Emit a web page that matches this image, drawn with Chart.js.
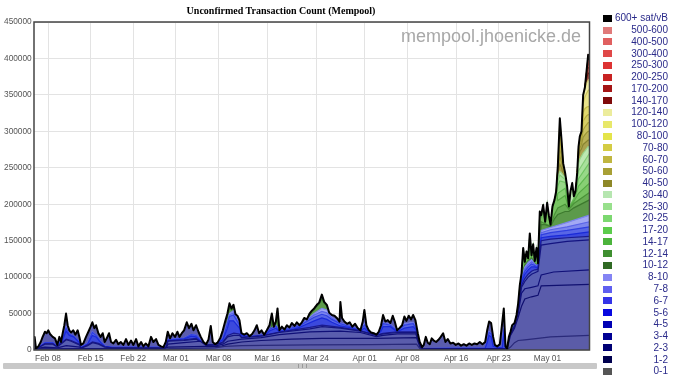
<!DOCTYPE html>
<html>
<head>
<meta charset="utf-8">
<script src="https://cdn.jsdelivr.net/npm/chart.js@4.4.0/dist/chart.umd.min.js"></script>
<style>
  html, body { margin: 0; padding: 0; background: #fff; }
  body { width: 679px; height: 379px; position: relative; overflow: hidden; font-family: 'Liberation Sans', Arial, sans-serif; }
  #chartBox { position: absolute; left: 0; top: 0; width: 600px; height: 368px; }
  #title { position: absolute; left: 0; top: 5px; width: 562px; text-align: center; font: bold 10px 'Liberation Serif', 'Times New Roman', serif; line-height: 12px; color: #000; }
  #watermark { position: absolute; right: 98px; top: 26px; font-size: 18px; line-height: 20px; color: #a8a8a8; }
  #legend { position: absolute; left: 600px; top: 0; width: 79px; height: 379px; }
  .row { position: absolute; left: 0; width: 68px; height: 12px; }
  .sw { position: absolute; left: 3px; top: 2.5px; width: 9px; height: 7px; }
  .lab { position: absolute; right: 0; top: 0; font-size: 10px; line-height: 12px; color: #2a2a8a; white-space: nowrap; }
  #scroll { position: absolute; left: 3px; top: 363px; width: 594px; height: 6px; background: #c8c8c8; border-radius: 1px; }
  #grip { position: absolute; left: 295px; top: 1px; width: 7px; height: 4px; border-left: 1px solid #999; border-right: 1px solid #999; }
  #grip:after { content: ''; position: absolute; left: 3px; top: 0; width: 1px; height: 4px; background: #999; }
</style>
</head>
<body>
<div id="chartBox"><canvas id="mempoolChart" width="600" height="368"></canvas></div>
<div id="title">Unconfirmed Transaction Count (Mempool)</div>
<div id="watermark">mempool.jhoenicke.de</div>
<div id="legend"></div>
<div id="scroll"><div id="grip"></div></div>
<script>
// x values are days counted from Feb 01, y values in thousands of transactions
const tickDays = [7, 14, 21, 28, 35, 43, 51, 59, 66, 74, 81, 89]
const tickLabels = ['Feb 08', 'Feb 15', 'Feb 22', 'Mar 01', 'Mar 08', 'Mar 16', 'Mar 24', 'Apr 01', 'Apr 08', 'Apr 16', 'Apr 23', 'May 01']

const feeLabels = ['0-1', '1-2', '2-3', '3-4', '4-5', '5-6', '6-7', '7-8', '8-10', '10-12', '12-14', '14-17', '17-20', '20-25', '25-30', '30-40', '40-50', '50-60', '60-70', '70-80', '80-100', '100-120', '120-140', '140-170', '170-200', '200-250', '250-300', '300-400', '400-500', '500-600', '600+ sat/vB']

// each band is the top of the stack up to that fee level: [day, thousands]
const fee0_1 = [[4.7,1],[26,1],[27,2],[33,2.5],[34.4,3],[36,5],[38.8,6],[50,7],[60,7.5],[67.5,8],[68.1,1.5],[68.42,0.5],[82.38,0.5],[82.93,4],[83.59,10],[84.19,13],[85.28,14],[87.44,16],[89.5,18],[95.9,20]]
const fee1_2 = [[4.7,1.5],[12.2,2],[26,1.5],[26.7,4],[33,5],[34.4,4.5],[35.5,5.5],[36.5,8],[38.8,11],[42,13],[47,15],[52,16],[60.9,16],[67.5,17],[68.1,3],[68.42,1],[82.38,1],[82.93,20],[83.59,30],[84.19,45],[84.74,60],[85.28,70],[86.38,73],[87.44,75],[87.97,88],[95.9,90]]
const fee2_3 = [[4.7,1.5],[6.5,4],[8.5,3],[10,6],[12.2,4],[12.42,2],[26.33,2],[26.7,8],[29.3,10],[32,12],[33,6],[34.44,5.5],[35.7,8],[36.5,12],[38.8,15],[42,17],[45,21],[50,25],[55,26],[58.29,24],[60.91,18.5],[62,20],[64.31,22],[67.4,22],[68.1,4],[68.42,1.5],[82.38,1.5],[82.93,21.5],[83.59,32],[84.19,50],[84.74,78],[85.28,84],[86.38,86],[87.44,88],[87.97,103],[90,107],[95.9,110]]
const fee3_4 = [[4.7,1],[5.03,1.5],[6.5,8],[7.8,8],[8.5,4],[9.4,10],[10,14],[10.8,12],[12.15,7],[12.42,2.5],[13.5,6],[14.3,10],[15.3,8],[16.31,4],[17.5,3],[26.33,3],[26.7,12],[29.3,13],[31.3,15],[32.5,8],[33,7],[34.44,7],[35.7,10],[36.5,18],[37.5,20],[38.43,20],[38.76,17],[42,19],[45,24],[50,29],[52,32],[55,30],[58.29,26],[60.91,20],[62,22],[64.31,24],[67.4,24],[67.71,16],[68.1,5],[68.42,2],[82.38,1.5],[82.93,22.5],[83.59,33],[83.92,42],[84.19,52],[84.46,68],[84.74,86],[85.28,94],[85.83,100],[86.38,104],[86.92,106],[87.44,108],[87.97,144],[89.5,146],[92.23,149],[95.9,151]]
const fee4_5 = [[4.7,1],[5.03,1.5],[6.5,8.5],[7.8,8.5],[8.5,4.5],[9.4,11],[10,15],[10.8,13],[12.15,8],[12.42,2.5],[13.5,7],[14.3,11],[15.3,9],[16.31,4.5],[17.5,3],[26.33,3],[26.7,12.5],[29.3,14],[31.3,16],[32.5,8.2],[33,7.2],[34.44,7.2],[35.7,11],[36.5,20],[37.5,23],[38.43,22],[38.76,17.5],[42,19.5],[45,24.5],[50,31],[52,34],[55,31],[58.29,26.2],[60.91,20.2],[62,23],[64.31,25],[67.4,25],[67.71,16.5],[68.1,5],[68.42,2],[82.38,1.5],[82.93,22.5],[83.59,33],[83.92,43],[84.19,53],[84.46,70],[84.74,89],[85.28,98],[85.83,104],[86.38,108],[86.92,110],[87.44,110.5],[87.97,150],[89.5,152],[92.23,154],[95.9,156]]
const fee5_6 = [[4.7,1],[5.03,1.5],[6.5,9],[7.8,9],[8.5,4.5],[9.4,14],[9.96,26],[10.5,20],[11.2,18],[12.15,10],[12.42,3],[13.5,8],[14.28,20],[14.89,18],[15.65,10],[16.31,5],[17.5,3.5],[26.33,3.5],[26.7,13],[29.3,15],[30.5,19],[31.3,18],[32.5,8.5],[33,7.5],[34.44,7.5],[35.7,14],[36.46,30],[36.79,40],[37.45,40],[38.43,30],[38.76,20],[40.08,18],[42,20],[42.49,19],[43.36,26],[44.4,30],[45,25],[47,28],[48.29,31],[49.06,34],[50.7,40],[51.96,44],[52.78,42],[53.6,38],[55,33],[56.97,30],[58.29,26],[58.94,30],[59.66,24],[60.91,20],[61.68,26],[62.01,32],[63.21,32],[64.31,25],[65.51,30],[66.94,32],[67.4,28],[67.71,18],[68.1,6],[68.42,2],[78.77,2.5],[79.1,10],[79.42,20],[79.75,18],[80.08,5],[81.56,2.5],[81.83,20],[82.11,3],[82.38,1.5],[82.93,22.5],[83.59,33.5],[83.92,44],[84.19,55],[84.46,74],[84.74,93],[85.28,104],[85.83,110],[86.38,114],[86.92,114],[87.44,112],[87.97,154],[89.5,156],[92.23,158],[95.9,162]]
const fee6_7 = [[4.7,1],[5.03,1.5],[6.5,10],[7.8,10],[8.5,5],[9.4,16],[9.96,30],[10.5,22],[11.2,19],[12.15,11],[12.42,3.5],[13.5,9],[14.28,24],[14.89,20],[15.65,11],[16.31,5.5],[17.5,3.5],[26.33,3.5],[26.7,14],[29.3,16],[30.5,21],[31.3,20],[32.5,9],[33,7.5],[34.44,7.5],[35.7,15],[36.46,36],[36.79,46],[37.45,48],[38.43,34],[38.76,21],[40.08,18.5],[42,20.5],[42.49,19.5],[43.36,28],[44.4,33],[45,26],[47,30],[48.29,33],[49.06,37],[50.7,45],[51.96,49],[52.78,47],[53.6,42],[55,36],[56.97,31],[58.29,26.5],[58.94,34],[59.66,25],[60.91,20.5],[61.68,28],[62.01,36],[63.21,34],[64.31,26],[65.51,34],[66.94,36],[67.4,30],[67.71,19],[68.1,6],[68.42,2],[78.77,2.5],[79.1,11],[79.42,24],[79.75,22],[80.08,6],[81.56,2.5],[81.83,28],[82.11,3],[82.38,1.5],[82.93,23],[83.59,34],[83.92,45],[84.19,57],[84.46,77],[84.74,96],[85.28,108],[85.83,114],[86.38,118],[86.92,116],[87.44,113],[87.97,158],[89.5,161],[92.23,164],[95.9,169]]
const fee7_8 = [[4.7,1],[5.03,1.5],[6.5,10],[7.8,10],[8.5,5],[9.4,16],[9.96,31],[10.5,22],[11.2,19],[12.15,11],[12.42,3.5],[13.5,9],[14.28,25],[14.89,20],[15.65,11],[16.31,5.5],[17.5,3.5],[26.33,3.5],[26.7,14],[29.3,16],[30.5,21],[31.3,20],[32.5,9],[33,7.5],[34.44,7.5],[35.7,15],[36.46,37],[36.79,48],[37.45,51],[38.43,35],[38.76,21],[40.08,18.5],[42,20.5],[42.49,19.5],[43.36,28],[44.4,33],[45,26],[47,30],[48.29,33],[49.06,38],[50.7,48],[51.96,53],[52.78,51],[53.6,44],[55,37],[56.97,31],[58.29,26.5],[58.94,35],[59.66,25],[60.91,20.5],[61.68,28],[62.01,37],[63.21,35],[64.31,26],[65.51,35],[66.94,37],[67.4,31],[67.71,19],[68.1,6],[68.42,2],[78.77,2.5],[79.1,11],[79.42,25],[79.75,23],[80.08,6],[81.56,2.5],[81.83,30],[82.11,3],[82.38,1.5],[82.93,23],[83.59,34],[83.92,45.5],[84.19,58],[84.46,78],[84.74,97],[85.28,111],[85.83,117],[86.38,121],[86.92,117.5],[87.44,114],[87.97,161],[89.5,165],[92.23,169],[95.9,176]]
const fee8_10 = [[4.7,1],[5.03,1.5],[6.5,10],[7.8,10],[8.5,5],[9.4,16],[9.96,32],[10.5,22],[11.2,19],[12.15,11],[12.42,3.5],[13.5,9],[14.28,25],[14.89,20],[15.65,11],[16.31,5.5],[17.5,3.5],[26.33,3.5],[26.7,14],[29.3,16],[30.5,21],[31.3,20],[32.5,9],[33,7.5],[34.44,7.5],[35.7,15],[36.46,38],[36.79,50],[37.45,54],[38.43,35],[38.76,21],[40.08,18.5],[42,20.5],[42.49,19.5],[43.36,28],[44.4,34],[45,26],[47,30],[48.29,33],[49.06,38],[50.7,50],[51.96,57],[52.78,55],[53.6,45],[55,37],[56.97,31],[58.29,26.5],[58.94,36],[59.66,25],[60.91,20.5],[61.68,28],[62.01,38],[63.21,35],[64.31,26],[65.51,36],[66.94,38],[67.4,31],[67.71,19],[68.1,6],[68.42,2],[78.77,2.5],[79.1,11],[79.42,25],[79.75,23],[80.08,6],[81.56,2.5],[81.83,32],[82.11,3],[82.38,1.5],[82.93,23],[83.59,34],[83.92,46],[84.19,59],[84.46,79],[84.74,98],[85.28,114],[85.83,120],[86.38,124],[86.92,118],[87.44,114.5],[87.97,164],[89.5,168],[92.23,175],[95.9,185]]
const fee10_12 = [[4.7,0],[36.08,0],[36.46,44],[36.79,58],[37.12,55],[37.45,58],[37.78,46],[38.1,30],[38.43,0],[43.36,0],[43.75,40],[44.08,31],[44.4,37],[44.68,45],[45,0],[49.06,0],[49.5,40],[49.93,48],[50.32,52],[50.7,55],[51.14,60],[51.52,63],[51.96,70],[52.34,64],[52.78,60],[53.17,49],[53.6,0],[82.38,0],[83.2,27],[83.59,32],[84.19,56],[84.74,99],[85.28,116],[85.83,121],[86.38,125],[86.92,118.5],[87.44,115.5],[87.97,172],[88.62,172],[89.5,169],[90.15,180],[90.7,186],[91.9,190],[92.51,190],[93.33,195],[95.9,206]]
const fee12_14 = [[82.38,0.5],[83.2,29],[83.59,33],[84.19,58],[84.74,101],[85.28,118],[85.83,123],[86.38,127],[86.92,119.5],[87.44,116.5],[87.97,176],[88.62,173],[89.5,170],[90.15,186],[90.7,195],[91.9,200],[92.51,193],[93.33,201],[95.9,216]]
const fee14_17 = [[82.38,0.5],[82.66,16],[82.93,23],[83.2,32],[83.59,35],[83.92,46],[84.19,62],[84.46,87],[84.74,103],[85.01,138],[85.28,119],[85.56,133],[85.83,124],[86.1,158],[86.38,128],[86.65,143],[86.92,120],[87.2,138],[87.44,117],[87.74,188],[87.97,183],[88.29,197],[88.62,174],[88.95,200],[89.22,183],[89.5,170.5],[89.82,195],[90.15,204],[90.43,216],[90.7,205],[91.9,212],[92.51,194],[93.33,204],[94.1,215],[95.9,229]]
const fee17_20 = [[87.97,181],[88.62,174],[89.5,171],[90.15,197],[90.7,215],[91.9,222],[92.51,194.5],[93.33,206],[93.6,212],[93.88,219],[94.1,225],[95.9,243]]
const fee20_25 = [[87.97,182],[88.62,174],[89.5,171],[90.15,199],[90.7,225],[91.03,232],[91.9,230],[92.51,195],[93.33,207],[93.6,213],[93.88,226],[94.1,235],[95.9,257]]
const fee25_30 = [[87.97,183],[88.62,174],[89.5,171],[90.15,200],[90.7,232],[91.03,240],[91.9,234],[92.51,195],[93.33,208],[93.6,214],[93.88,232],[94.1,246],[95.9,270]]
const fee30_40 = [[90.15,203],[90.43,216],[90.7,238],[91.03,245],[91.3,243],[91.58,240],[91.9,237],[92.23,222],[92.51,195.5],[92.78,216],[93.06,227],[93.33,209],[93.6,216],[93.88,238],[94.1,256],[94.31,262],[94.59,266],[94.86,270],[95.14,273],[95.41,276],[95.68,279],[95.9,279]]
const fee40_50 = [[90.43,214],[90.7,242],[91.03,255],[91.3,250],[91.58,242],[91.9,238],[92.23,220],[92.51,194],[92.78,214],[93.06,225],[93.33,208],[93.6,214],[93.88,239],[94.1,265],[94.31,272],[94.59,276],[94.86,282],[95.14,284],[95.41,286],[95.68,288],[95.9,288]]
const fee50_60 = [[90.43,214],[90.7,245],[91.03,266],[91.3,258],[91.58,246],[91.9,239],[92.23,220],[92.51,194],[93.33,208],[93.6,214],[93.88,240],[94.1,268],[94.31,277],[94.59,282],[94.86,292],[95.14,295],[95.41,298],[95.68,300],[95.9,300]]
const fee60_70 = [[90.43,214],[90.7,247],[91.03,276],[91.3,265],[91.58,249],[91.9,240],[92.23,220],[92.51,194],[93.33,208],[93.6,214],[93.88,240],[94.1,271],[94.31,281],[94.59,287],[94.86,302],[95.14,306],[95.41,309],[95.68,312],[95.9,312]]
const fee70_80 = [[90.43,214],[90.7,248],[91.03,287],[91.3,272],[91.58,251],[91.9,240],[92.23,220],[92.51,194],[93.33,208],[93.6,214],[93.88,241],[94.1,273],[94.31,285],[94.59,291],[94.86,314],[95.14,318],[95.41,321],[95.68,323],[95.9,323]]
const fee80_100 = [[90.43,215],[90.7,249],[91.03,298],[91.3,279],[91.58,253],[91.9,241],[92.23,221],[92.51,194],[93.33,208],[93.6,214],[93.88,241],[94.1,275],[94.31,288],[94.59,295],[94.86,326],[95.14,331],[95.41,333],[95.68,334],[95.9,334]]
const fee100_120 = [[90.43,215],[90.7,250],[91.03,308],[91.3,284],[91.58,254],[91.9,241],[92.23,221],[92.51,194],[93.33,208],[93.6,214],[93.88,241],[94.1,276],[94.31,290],[94.59,297],[94.86,338],[95.14,347],[95.41,352],[95.68,356],[95.9,357]]
const fee120_140 = [[90.43,216],[90.7,250],[91.03,316],[91.3,287],[91.58,254],[91.9,241],[92.23,222],[92.51,195],[93.33,209],[93.6,215],[93.88,241],[94.1,277],[94.31,291],[94.59,298],[94.86,348],[95.14,358],[95.41,366],[95.68,370],[95.9,372]]
const fee140_170 = [[95.14,358],[95.41,372],[95.68,380],[95.9,379]]
const fee170_200 = [[95.14,358],[95.41,376],[95.68,388],[95.9,386]]
const fee200_250 = [[95.14,358],[95.41,378],[95.68,393],[95.9,390]]
const fee250_300 = [[95.14,358],[95.41,379],[95.68,397],[95.9,393]]
const fee300_400 = [[95.14,358],[95.41,380],[95.68,400],[95.9,395]]
const fee400_500 = [[95.14,358],[95.41,380.5],[95.68,402],[95.9,396]]
const fee500_600 = [[95.14,358],[95.41,381],[95.68,403],[95.9,397]]
// total of all bands (600+ top)
const fee600 = [[4.7,17],[4.8,18],[5.03,2],[5.41,5],[5.8,11],[6.12,18],[6.5,25],[6.78,23],[7.05,27],[7.33,22],[7.77,18],[8.15,16],[8.53,7],[8.86,18],[9.13,11],[9.41,23],[9.68,34],[9.96,50],[10.23,34],[10.5,27],[10.78,24],[11.16,27],[11.49,21],[11.87,27],[12.15,18],[12.42,7],[12.8,9],[13.24,18],[13.63,25],[14,32],[14.28,38],[14.61,30],[14.89,34],[15.27,23],[15.65,18],[15.98,23],[16.31,11],[16.64,16],[17.02,23],[17.35,11],[17.73,9],[18.17,14],[18.55,8],[18.94,11],[19.37,7],[19.81,15],[20.2,7],[20.63,13],[21.02,7],[21.46,15],[21.84,5],[22.28,11],[22.66,5],[23.05,9],[23.48,5],[23.92,18],[24.3,11],[24.74,15],[25.13,7],[25.56,5],[25.95,4],[26.33,11],[26.66,25],[27.04,16],[27.43,23],[27.86,18],[28.25,25],[28.58,18],[28.96,23],[29.34,27],[29.78,38],[30.16,30],[30.55,36],[30.88,27],[31.31,34],[31.7,25],[32.08,18],[32.52,11],[32.96,8],[33.34,14],[33.72,33],[34.05,11],[34.44,8],[34.82,10],[35.26,16],[35.7,27],[36.08,39],[36.46,50],[36.79,64],[37.12,57],[37.45,62],[37.78,49],[38.1,47],[38.43,41],[38.76,23],[39.2,21],[39.64,23],[40.08,19],[40.51,22],[40.9,27],[41.28,34],[41.66,23],[42.05,27],[42.49,21],[42.92,27],[43.36,34],[43.75,50],[44.08,32],[44.4,39],[44.68,57],[45,27],[45.39,32],[45.83,28],[46.21,34],[46.65,31],[47.03,37],[47.47,33],[47.85,38],[48.29,34],[48.68,38],[49.06,44],[49.5,42],[49.93,50],[50.32,54],[50.7,57],[51.14,62],[51.52,65],[51.96,76],[52.34,66],[52.78,62],[53.17,51],[53.6,48],[54.04,47],[54.42,44],[54.86,39],[55,66],[55.27,44],[55.66,39],[56.1,36],[56.53,38],[56.97,32],[57.41,36],[57.85,30],[58.29,27],[58.67,39],[58.94,55],[59.27,34],[59.66,27],[60.04,24],[60.48,23],[60.91,21],[61.3,25],[61.68,34],[62.01,48],[62.39,39],[62.78,41],[63.21,37],[63.6,47],[63.93,39],[64.31,27],[64.69,30],[65.13,34],[65.51,46],[65.84,40],[66.23,47],[66.61,42],[66.94,48],[67.32,41],[67.71,23],[68.03,11],[68.42,4],[68.69,7],[69.02,18],[69.35,10],[69.68,8],[70,16],[70.33,13],[70.72,11],[71.1,14],[71.48,18],[71.87,23],[72.25,11],[72.63,15],[73.07,9],[73.51,10],[73.95,7],[74.39,9],[74.82,6],[75.26,8],[75.7,6],[76.14,9],[76.58,7],[77.02,9],[77.45,8],[77.89,11],[78.33,8],[78.77,11],[79.1,27],[79.42,39],[79.75,37],[80.08,18],[80.36,7],[80.74,5],[81.18,8],[81.56,37],[81.83,57],[82.11,5],[82.38,2],[82.66,18],[82.93,25],[83.2,34],[83.59,37],[83.92,48],[84.19,64],[84.46,89],[84.74,105],[85.01,140],[85.28,121],[85.56,135],[85.83,126],[86.1,160],[86.38,130],[86.65,145],[86.92,122],[87.2,140],[87.44,119],[87.74,190],[87.97,185],[88.29,199],[88.62,176],[88.95,202],[89.22,185],[89.5,172],[89.82,197],[90.15,206],[90.43,218],[90.7,252],[91.03,318],[91.3,289],[91.58,256],[91.9,243],[92.23,224],[92.51,197],[92.78,218],[93.06,229],[93.33,211],[93.6,218],[93.88,243],[94.1,279],[94.31,293],[94.59,300],[94.86,350],[95.14,360],[95.41,382],[95.68,405],[95.9,398]]

const bands = [fee0_1, fee1_2, fee2_3, fee3_4, fee4_5, fee5_6, fee6_7, fee7_8, fee8_10, fee10_12, fee12_14, fee14_17, fee17_20, fee20_25, fee25_30, fee30_40, fee40_50, fee50_60, fee60_70, fee70_80, fee80_100, fee100_120, fee120_140, fee140_170, fee170_200, fee200_250, fee250_300, fee300_400, fee400_500, fee500_600, fee600]

const swatchColors = ['#555555', '#00004f', '#000074', '#000094', '#0000b4', '#0808e0', '#3434e8', '#5f5ff0', '#8484f4', '#306a24', '#3f8f30', '#4cb43c', '#5ccc4c', '#7cd870', '#98e08c', '#b6e6b0', '#8e8828', '#a8a035', '#c0b640', '#d4cc44', '#e4e44a', '#e8e86a', '#ecec9c', '#7f0a0a', '#a51515', '#c82222', '#dd3333', '#e04848', '#e06060', '#e07a7a', '#000000']
const fillColors = ['#5b5ca8', '#5a5cab', '#5a5dae', '#585fb3', '#5561bb', '#3b49dd', '#5866e6', '#7c86ee', '#a2a8f4', '#5c9a4a', '#68ae54', '#78c462', '#88cf74', '#98d888', '#a9e09c', '#bde8b2', '#aaa24e', '#bab256', '#cac260', '#d6ce66', '#e0d96c', '#e8e38a', '#eeeca8', '#9a4a40', '#b65a50', '#c86a60', '#d67a72', '#e08a84', '#e69a94', '#ecaaa6', '#5a5cae']
const lineColors = ['#2a2a7a', '#101070', '#101078', '#141480', '#1a1a90', '#1a2ad8', '#3040e0', '#5a64e8', '#7c84ee', '#3d7a2e', '#4a9238', '#56a844', '#60b850', '#70c462', '#84cc76', '#98d48a', '#8a8430', '#9a9436', '#aaa23c', '#b8b042', '#c4bc48', '#ccc45a', '#d4cc70', '#6a1a12', '#8a2a20', '#a03a30', '#b04840', '#c05850', '#c86862', '#d07874', '#000000']

const toPoints = band => band.map(p => ({ x: p[0], y: p[1] * 1000 }))

const datasets = bands.map((band, i) => ({
  label: feeLabels[i],
  data: toPoints(band),
  backgroundColor: fillColors[i],
  borderColor: lineColors[i],
  borderWidth: i === bands.length - 1 ? 0 : 1.2,
  fill: 'origin',
  pointRadius: 0,
  tension: 0
}))

// black outline of the total, drawn last
datasets.push({
  label: 'total',
  data: toPoints(fee600),
  borderColor: '#000',
  borderWidth: 2,
  borderJoinStyle: 'round',
  fill: false,
  pointRadius: 0,
  tension: 0,
  order: -1
})

const frame = {
  id: 'frame',
  afterDatasetsDraw(chart) {
    const { ctx, chartArea: a } = chart
    ctx.save()
    ctx.strokeStyle = '#444'
    ctx.lineWidth = 1.5
    ctx.strokeRect(a.left, a.top, a.right - a.left, a.bottom - a.top)
    ctx.restore()
  }
}

const tickFont = { family: "'Liberation Sans', Arial, sans-serif", size: 8.3 }

const config = {
  type: 'line',
  data: { datasets: datasets },
  options: {
    responsive: false,
    animation: false,
    devicePixelRatio: 1,
    events: [],
    layout: { padding: { top: 22, right: 10.5, left: 0, bottom: 0 } },
    plugins: {
      legend: { display: false },
      tooltip: { enabled: false },
      title: { display: false }
    },
    scales: {
      x: {
        type: 'linear',
        min: 4.7,
        max: 95.9,
        afterBuildTicks: axis => { axis.ticks = tickDays.map(v => ({ value: v })) },
        afterFit: axis => { axis.height = 18 },
        grid: { color: '#e3e3e3', drawTicks: false },
        border: { display: false },
        ticks: {
          autoSkip: false,
          maxRotation: 0,
          padding: 4,
          color: '#555',
          font: tickFont,
          callback: v => tickLabels[tickDays.indexOf(v)]
        }
      },
      y: {
        min: 0,
        max: 450000,
        afterFit: axis => { axis.width = 34 },
        grid: { color: '#e3e3e3', drawTicks: false },
        border: { display: false },
        ticks: {
          stepSize: 50000,
          padding: 2.3,
          color: '#555',
          font: tickFont,
          callback: v => String(v)
        }
      }
    }
  },
  plugins: [frame]
}

const myChart = new Chart(document.getElementById('mempoolChart'), config)

// legend column, highest fee first
const legend = document.getElementById('legend')
for (let i = feeLabels.length - 1, row = 0; i >= 0; i--, row++) {
  const div = document.createElement('div')
  div.className = 'row'
  div.style.top = (12.3 + row * 11.77) + 'px'
  div.innerHTML = '<span class="sw" style="background:' + swatchColors[i] + '"></span><span class="lab">' + feeLabels[i] + '</span>'
  legend.appendChild(div)
}
</script>
</body>
</html>
